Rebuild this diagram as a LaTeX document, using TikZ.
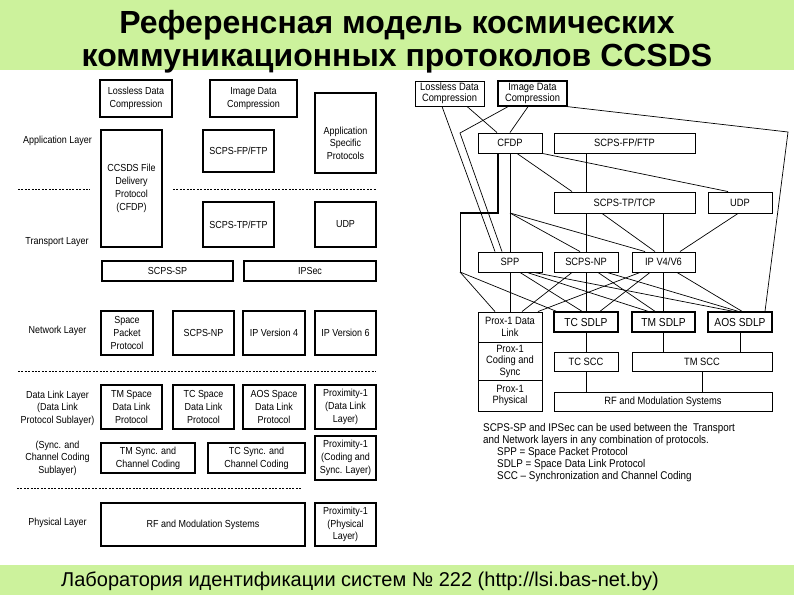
\documentclass[tikz,border=0pt]{standalone}
\usepackage{fontspec}
\setmainfont{Liberation Sans}
\newfontfamily\narrowsf[FakeStretch=0.88]{Liberation Sans}
\usepackage{xcolor}
\usepackage{tikz}
\usetikzlibrary{positioning,calc}
\definecolor{bandgreen}{RGB}{204,242,156}
\tikzstyle{box} = [draw, line width=1.1pt, inner sep=1pt, align=center, font=\narrowsf\fontsize{10.2}{12.8}\selectfont]
\tikzstyle{rbox} = [draw, line width=0.9pt, inner sep=1pt, align=center, font=\narrowsf\fontsize{10.6}{11.5}\selectfont]
\tikzstyle{sdlp} = [rbox, line width=1.4pt, font=\narrowsf\fontsize{11.6}{12}\selectfont]
\tikzstyle{layer} = [align=center, font=\narrowsf\fontsize{10.2}{12.5}\selectfont]
\tikzstyle{note} = [inner sep=0pt, align=left, font=\narrowsf\fontsize{11.2}{12}\selectfont]
\tikzstyle{sep} = [line width=0.8pt, dash pattern=on 2pt off 1.4pt]
\tikzstyle{link} = [line width=0.7pt]

\begin{document}
\begin{tikzpicture}[x=1pt, y=-1pt]
    \fill[white] (0,0) rectangle (794,595);
    \useasboundingbox (0,0) rectangle (794,595);
    \fill[bandgreen] (0,0) rectangle (794,70);
    \fill[bandgreen] (0,565) rectangle (794,595);
    \node[align=center, font=\bfseries\fontsize{32}{33}\selectfont] (title) at (397,42) {Референсная модель космических\\коммуникационных протоколов CCSDS};
    \node[anchor=west, inner sep=0pt, font=\fontsize{20}{24}\selectfont] (footer) at (61,581) {Лаборатория идентификации систем № 222 (http://lsi.bas-net.by)};

    % layers
    \node[layer] (appl) at (57.5,141) {Application Layer};
    \node[layer] (tpl) at (57,242) {Transport Layer};
    \node[layer] (netl) at (57.5,331) {Network Layer};
    \node[layer] (dll) at (57.5,408) {Data Link Layer\\(Data Link\\Protocol Sublayer)};
    \node[layer] (sccl) at (57.5,458) {(Sync. and\\Channel Coding\\Sublayer)};
    \node[layer] (phyl) at (57.5,523) {Physical Layer};
    \draw[sep] (18,189) -- (90,189);
    \draw[sep] (173,189) -- (376,189);
    \draw[sep] (18,371) -- (376,371);
    \draw[sep] (17,488) -- (302,488);

    \node[box, minimum width=72, minimum height=37] (lossless) at (136,98.5) {Lossless Data\\Compression};
    \node[box, minimum width=87, minimum height=37] (imgdata) at (253.5,98.5) {Image Data\\Compression};
    \node[box, minimum width=61, minimum height=80] (appspec) at (345.5,133) {};
    \node[layer] (appspectext) at (345.5,143) {Application\\Specific\\Protocols};
    \node[box, minimum width=61, minimum height=117] (cfdpl) at (131.5,188.5) {CCSDS File\\Delivery\\Protocol\\(CFDP)};
    \node[box, minimum width=71, minimum height=42] (fpftpl) at (238.5,151) {SCPS-FP/FTP};
    \node[box, minimum width=71, minimum height=45] (tpftpl) at (238.5,224.5) {SCPS-TP/FTP};
    \node[box, minimum width=61, minimum height=45] (udpl) at (345.5,224.5) {UDP};
    \node[box, minimum width=131, minimum height=20] (scpssp) at (167.5,271) {SCPS-SP};
    \node[box, minimum width=132, minimum height=20] (ipsec) at (310,271) {IPSec};

    \node[box, minimum width=52, minimum height=44] (sppl) at (127,333) {Space\\Packet\\Protocol};
    \node[box, minimum width=61, minimum height=44] (scpsnpl) at (203.5,333) {SCPS-NP};
    \node[box, minimum width=62, minimum height=44] (ip4) at (274,333) {IP Version 4};
    \node[box, minimum width=61, minimum height=44] (ip6) at (345.5,333) {IP Version 6};

    \node[box, minimum width=61, minimum height=44] (tmsdl) at (131.5,407) {TM Space\\Data Link\\Protocol};
    \node[box, minimum width=61, minimum height=44] (tcsdl) at (203.5,407) {TC Space\\Data Link\\Protocol};
    \node[box, minimum width=62, minimum height=44] (aossdl) at (274,407) {AOS Space\\Data Link\\Protocol};
    \node[box, minimum width=61, minimum height=44] (proxdll) at (345.5,407) {Proximity-1\\(Data Link\\Layer)};

    \node[box, minimum width=94, minimum height=30] (tmsync) at (148,458) {TM Sync. and\\Channel Coding};
    \node[box, minimum width=97, minimum height=30] (tcsync) at (256.5,458) {TC Sync. and\\Channel Coding};
    \node[box, minimum width=61, minimum height=44] (proxcsl) at (345.5,458) {Proximity-1\\(Coding and\\Sync. Layer)};
    \node[box, minimum width=204, minimum height=43] (rfl) at (203,524.5) {RF and Modulation Systems};
    \node[box, minimum width=61, minimum height=43] (proxphl) at (345.5,524.5) {Proximity-1\\(Physical\\Layer)};

    % protocol graph
    \node[rbox, minimum width=69, minimum height=25] (rlossless) at (449.5,93.5) {Lossless Data\\Compression};
    \node[rbox, line width=1.3pt, minimum width=69, minimum height=25] (rimgdata) at (532.5,93.5) {Image Data\\Compression};
    \node[rbox, minimum width=64, minimum height=20] (cfdp) at (510,143) {CFDP};
    \node[rbox, minimum width=141, minimum height=20] (fpftp) at (624.5,143) {SCPS-FP/FTP};
    \node[rbox, minimum width=141, minimum height=21] (tptcp) at (624.5,202.5) {SCPS-TP/TCP};
    \node[rbox, minimum width=64, minimum height=21] (udp) at (740,202.5) {UDP};
    \node[rbox, minimum width=64, minimum height=20] (spp) at (510,262) {SPP};
    \node[rbox, minimum width=64, minimum height=20] (scpsnp) at (586,262) {SCPS-NP};
    \node[rbox, minimum width=63, minimum height=20] (ipv) at (663.5,262) {IP V4/V6};
    \node[rbox, minimum width=64, minimum height=30] (proxdl) at (510,327) {Prox-1 Data\\Link};
    \node[rbox, minimum width=64, minimum height=38] (proxcs) at (510,361) {Prox-1\\Coding and\\Sync};
    \node[rbox, minimum width=64, minimum height=31] (proxph) at (510,395.5) {Prox-1\\Physical};
    \node[sdlp, minimum width=64, minimum height=20] (tcsdlp) at (586,322) {TC SDLP};
    \node[sdlp, minimum width=63, minimum height=20] (tmsdlp) at (663.5,322) {TM SDLP};
    \node[sdlp, minimum width=64, minimum height=20] (aossdlp) at (740,322) {AOS SDLP};
    \node[rbox, minimum width=64, minimum height=19] (tcscc) at (586,361.5) {TC SCC};
    \node[rbox, minimum width=140, minimum height=19] (tmscc) at (702,361.5) {TM SCC};
    \node[rbox, minimum width=218, minimum height=19] (rfms) at (663,401.5) {RF and Modulation Systems};

    \coordinate (kinkA) at (460,133);
    \coordinate (kinkB) at (788,132);
    \coordinate (elbow) at (460,213);
    \coordinate (split) at (460,272);
    \coordinate (tap) at (510,213);

    \draw[link] ([xshift=-7.5pt]rlossless.south) -- ([xshift=-15pt]spp.north);
    \draw[link] ([xshift=17.5pt]rlossless.south) -- ([xshift=-13pt]cfdp.north);
    \draw[link] ([xshift=-24.5pt]rimgdata.south) -- (kinkA) -- ([xshift=-8pt]spp.north);
    \draw[link] ([xshift=-4.5pt]rimgdata.south) -- (cfdp.north);
    \draw[link] (rimgdata.south east) -- (kinkB) -- ([xshift=25pt]aossdlp.north);
    \draw[link, line width=1.6pt] ([xshift=-12pt]cfdp.south) |- (elbow);
    \draw[link] (elbow) -- (split);
    \draw[link] (split) -- ([xshift=-15pt]proxdl.north);
    \draw[link] (split) -- ([xshift=3pt]tcsdlp.north west);
    \draw[link] (cfdp.south) -- (spp.north);
    \draw[link] (tap) -- ([xshift=-6pt]scpsnp.north);
    \draw[link] (tap) -- ([xshift=-18.5pt]ipv.north);
    \draw[link] ([xshift=7pt]cfdp.south) -- ([xshift=-52.5pt]tptcp.north);
    \draw[link] (cfdp.south east) -- ([xshift=-12pt]udp.north);
    \draw[link] (scpsnp.north |- fpftp.south) -- (scpsnp.north |- tptcp.north);
    \draw[link] (scpsnp.north |- tptcp.south) -- (scpsnp.north);
    \draw[link] ([xshift=-22.5pt]tptcp.south) -- ([xshift=-8.5pt]ipv.north);
    \draw[link] (ipv.north |- tptcp.south) -- (ipv.north);
    \draw[link] ([xshift=-2pt]udp.south) -- ([xshift=16.5pt]ipv.north);

    \draw[link] (spp.south) -- (proxdl.north);
    \draw[link] ([xshift=10pt]spp.south) -- ([xshift=-4pt]tcsdlp.north);
    \draw[link] ([xshift=17pt]spp.south) -- ([xshift=-15.5pt]tmsdlp.north);
    \draw[link] ([xshift=24pt]spp.south) -- ([xshift=-7pt]aossdlp.north);
    \draw[link] ([xshift=-14pt]scpsnp.south) -- ([xshift=12pt]proxdl.north);
    \draw[link] (scpsnp.south) -- (tcsdlp.north);
    \draw[link] ([xshift=12pt]scpsnp.south) -- ([xshift=-8.5pt]tmsdlp.north);
    \draw[link] ([xshift=21pt]scpsnp.south) -- ([xshift=-2pt]aossdlp.north);
    \draw[link] ([xshift=-23.5pt]ipv.south) -- ([xshift=28pt]proxdl.north);
    \draw[link] ([xshift=-13.5pt]ipv.south) -- ([xshift=14pt]tcsdlp.north);
    \draw[link] (ipv.south) -- (tmsdlp.north);
    \draw[link] ([xshift=13.5pt]ipv.south) -- ([xshift=2pt]aossdlp.north);
    \draw[link] (tcsdlp.south) -- (tcscc.north);
    \draw[link] (tmsdlp.south) -- (tmsdlp.south |- tmscc.north);
    \draw[link] (aossdlp.south) -- (aossdlp.south |- tmscc.north);
    \draw[link] (tcscc.south) -- (tcscc.south |- rfms.north);
    \draw[link] (tmscc.south) -- (tmscc.south |- rfms.north);

    \node[note, anchor=base west] (notes) at (483,443) {SCPS-SP and IPSec can be used between the \ Transport\\and Network layers in any combination of protocols.};
    \node[note, anchor=base west] (legend) at (497,479) {SPP = Space Packet Protocol\\SDLP = Space Data Link Protocol\\SCC – Synchronization and Channel Coding};
\end{tikzpicture}
\end{document}
